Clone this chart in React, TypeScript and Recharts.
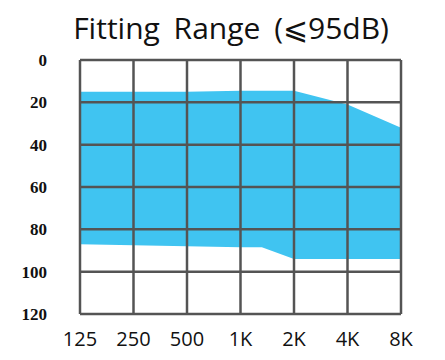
import React from 'react';
import { ComposedChart, Area, XAxis, YAxis, ReferenceLine } from 'recharts';

const freqLabels = ['125', '250', '500', '1K', '2K', '4K', '8K'];
const dbTicks = [0, 20, 40, 60, 80, 100, 120];

// position on the frequency axis (0 = 125 Hz ... 6 = 8 kHz)
const pointPos = [0, 1, 2, 3, 3.4, 4, 5, 6];
const upperDb = [15, 15, 15, 14.5, 14.5, 14.5, 21, 32];
const lowerDb = [87, 87.5, 88, 88.5, 88.5, 94, 94, 94];

const data = pointPos.map((pos, i) => ({ pos, range: [upperDb[i], lowerDb[i]] }));

const gridColor = '#545454';

const App: React.FC = () => {
  return (
    <div style={{ position: 'absolute', left: 0, top: 0, width: 445, height: 360, background: '#fff' }}>
      <div
        style={{
          position: 'absolute',
          left: 0,
          top: 8,
          width: 462,
          textAlign: 'center',
          fontFamily: '"Open Sans", sans-serif',
          fontSize: 30,
          lineHeight: '40px',
          color: '#111',
          wordSpacing: 6,
        }}
      >
        Fitting Range (⩽95dB)
      </div>
      <ComposedChart width={445} height={360} data={data} margin={{ top: 60, right: 44, bottom: 0, left: 50 }}>
        <XAxis
          dataKey="pos"
          type="number"
          domain={[0, 6]}
          ticks={[0, 1, 2, 3, 4, 5, 6]}
          tickFormatter={(v: number) => freqLabels[v]}
          axisLine={false}
          tickLine={false}
          height={46}
          tickMargin={12}
          interval={0}
          tick={{ fontSize: 20, fill: '#111', fontFamily: '"Open Sans", sans-serif' }}
        />
        <YAxis
          type="number"
          reversed
          domain={[0, 120]}
          ticks={dbTicks}
          width={30}
          axisLine={false}
          tickLine={false}
          tickMargin={27}
          interval={0}
          tick={{ fontSize: 17, fill: '#111', fontFamily: '"Liberation Serif", serif', fontWeight: 'bold' }}
        />
        <Area
          type="linear"
          dataKey="range"
          stroke="none"
          fill="#40C4F1"
          fillOpacity={1}
          isAnimationActive={false}
          activeDot={false}
        />
        {dbTicks.map((t) => (
          <ReferenceLine key={`h-${t}`} y={t} stroke={gridColor} strokeWidth={2.5} />
        ))}
        {freqLabels.map((_, i) => (
          <ReferenceLine key={`v-${i}`} x={i} stroke={gridColor} strokeWidth={2.5} />
        ))}
      </ComposedChart>
    </div>
  );
};

export default App;
